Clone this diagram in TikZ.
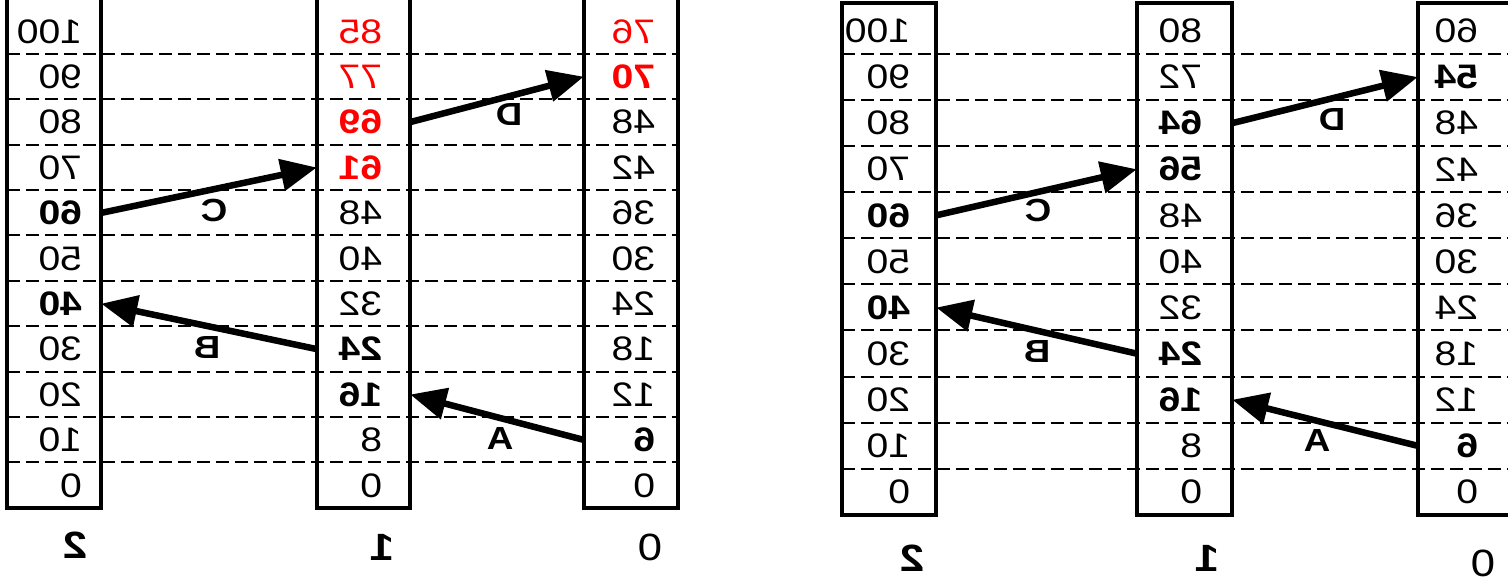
\documentclass[tikz,border=0pt]{standalone}
\usepackage{fontspec}
\setmainfont{Liberation Sans}
\usepackage{graphicx}
\usetikzlibrary{arrows.meta}
\definecolor{numred}{RGB}{255,0,0}
\newcommand\mirr[1]{\scalebox{-1.15}[1]{#1}}
\newcommand\rnum[1]{\llap{\mirr{#1}}}
\newcommand\nN{}
\newcommand\nB{\bfseries}
\newcommand\nR{\color{numred}}
\newcommand\nRB{\color{numred}\bfseries}
\newcommand\numfont{\fontsize{34}{36}\selectfont}
\newcommand\lblfont{\fontsize{32}{36}\selectfont\bfseries}
\newcommand\colfont{\fontsize{38}{42}\selectfont}
\begin{document}
\begin{tikzpicture}[x=1pt,y=-1pt,
  box/.style={draw, line width=4pt, inner sep=0pt},
  cell/.style={rectangle, inner ysep=0pt, align=right, font=\numfont},
  cL2/.style={cell, minimum width=94pt, text width=56pt, inner xsep=19pt, minimum height=45.4pt},
  cL1/.style={cell, minimum width=93pt, text width=37pt, inner xsep=28pt, minimum height=45.4pt},
  cL0/.style={cell, minimum width=94pt, text width=48pt, inner xsep=23pt, minimum height=45.4pt},
  cR2/.style={cell, minimum width=94pt, text width=42pt, inner xsep=26pt, minimum height=46.1pt},
  cR1/.style={cell, minimum width=95pt, text width=35pt, inner xsep=30pt, minimum height=46.1pt},
  cR0/.style={cell, minimum width=94pt, text width=26pt, inner xsep=34pt, minimum height=46.1pt},
  grid/.style={line width=2pt, dash pattern=on 13pt off 6pt},
  arr/.style={line width=6.5pt, -{Triangle[length=36pt,width=31pt]}},
  lbl/.style={font=\lblfont, inner sep=0pt},
  colname/.style={font=\colfont, inner sep=0pt}
]
\useasboundingbox (0,0) rectangle (1508,588);
\clip (0,0) rectangle (1508,588);

% ---------- left panel cells ----------
\foreach \k/\t/\s in {0/0/\nN,1/10/\nN,2/20/\nN,3/30/\nN,4/40/\nB,5/50/\nN,6/60/\nB,7/70/\nN,8/80/\nN,9/90/\nN,10/100/\nN}
  \node[cL2] (L2r\k) at (54,{508-45.4*(\k+0.5)}) {\s\rnum{\t}};
\foreach \k/\t/\s in {0/0/\nN,1/8/\nN,2/16/\nB,3/24/\nB,4/32/\nN,5/40/\nN,6/48/\nN,7/61/\nRB,8/69/\nRB,9/77/\nR,10/85/\nR}
  \node[cL1] (L1r\k) at (363.5,{508-45.4*(\k+0.5)}) {\s\rnum{\t}};
\foreach \k/\t/\s in {0/0/\nN,1/6/\nB,2/12/\nN,3/18/\nN,4/24/\nN,5/30/\nN,6/36/\nN,7/42/\nN,8/48/\nN,9/70/\nRB,10/76/\nR}
  \node[cL0] (L0r\k) at (631,{508-45.4*(\k+0.5)}) {\s\rnum{\t}};

% ---------- right panel cells ----------
\foreach \k/\t/\s in {0/0/\nN,1/10/\nN,2/20/\nN,3/30/\nN,4/40/\nB,5/50/\nN,6/60/\nB,7/70/\nN,8/80/\nN,9/90/\nN,10/100/\nN}
  \node[cR2] (R2r\k) at (889,{515-46.1*(\k+0.5)}) {\s\rnum{\t}};
\foreach \k/\t/\s in {0/0/\nN,1/8/\nN,2/16/\nB,3/24/\nB,4/32/\nN,5/40/\nN,6/48/\nN,7/56/\nB,8/64/\nB,9/72/\nN,10/80/\nN}
  \node[cR1] (R1r\k) at (1184.5,{515-46.1*(\k+0.5)}) {\s\rnum{\t}};
\foreach \k/\t/\s in {0/0/\nN,1/6/\nB,2/12/\nN,3/18/\nN,4/24/\nN,5/30/\nN,6/36/\nN,7/42/\nN,8/48/\nN,9/54/\nB,10/60/\nN}
  \node[cR0] (R0r\k) at (1465,{515-46.1*(\k+0.5)}) {\s\rnum{\t}};

% ---------- dashed row lines ----------
\foreach \k in {0,...,9} {
  \draw[grid] (L2r\k.north west) -- (L0r\k.north east);
  \draw[grid] (R2r\k.north west) -- (R0r\k.north east);
}

% ---------- column boxes ----------
\node[box, minimum width=94pt, minimum height=518pt] (L2box) at (54,249) {};
\node[box, minimum width=93pt, minimum height=518pt] (L1box) at (363.5,249) {};
\node[box, minimum width=94pt, minimum height=518pt] (L0box) at (631,249) {};
\node[box, minimum width=94pt, minimum height=512pt] (R2box) at (889,259) {};
\node[box, minimum width=95pt, minimum height=512pt] (R1box) at (1184.5,259) {};
\node[box, minimum width=94pt, minimum height=512pt] (R0box) at (1465,259) {};

% ---------- column names ----------
\node[colname] (Lc2) at (75,545) {\bfseries\mirr{2}};
\node[colname] (Lc1) at (382,547) {\bfseries\mirr{1}};
\node[colname] (Lc0) at (650,547) {\mirr{0}};
\node[colname] (Rc2) at (912,558) {\bfseries\mirr{2}};
\node[colname] (Rc1) at (1207,558) {\bfseries\mirr{1}};
\node[colname] (Rc0) at (1483,563) {\mirr{0}};

% ---------- arrows ----------
\draw[arr] (L0r1.west) -- (L1r2.east);
\draw[arr] (L1r3.west) -- (L2r4.east);
\draw[arr] (L2r6.east) -- (L1r7.west);
\draw[arr] (L1r8.east) -- (L0r9.west);
\draw[arr] (R0r1.west) -- (R1r2.east);
\draw[arr] (R1r3.west) -- (R2r4.east);
\draw[arr] (R2r6.east) -- (R1r7.west);
\draw[arr] (R1r8.east) -- (R0r9.west);

\node[lbl] (LA) at (500,438) {\mirr{A}};
\node[lbl] (LB) at (207,347) {\mirr{B}};
\node[lbl] (LC) at (214,210) {\mirr{C}};
\node[lbl] (LD) at (509,114) {\mirr{D}};
\node[lbl] (RA) at (1317,440) {\mirr{A}};
\node[lbl] (RB) at (1037,351) {\mirr{B}};
\node[lbl] (RC) at (1038,210) {\mirr{C}};
\node[lbl] (RD) at (1332,119) {\mirr{D}};
\end{tikzpicture}
\end{document}
